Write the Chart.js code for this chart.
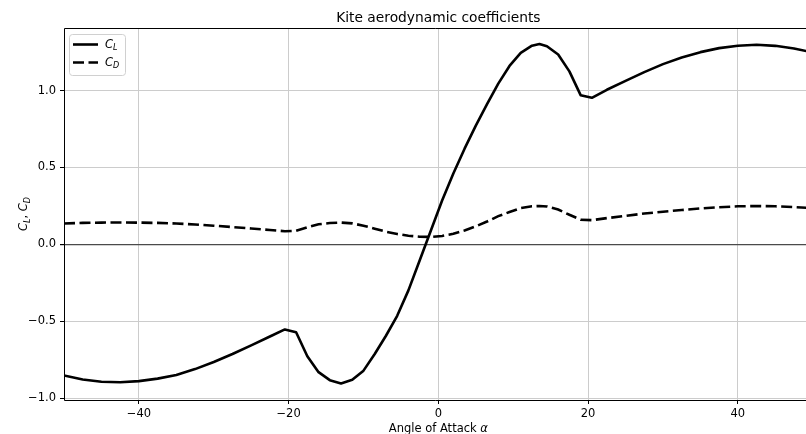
<!DOCTYPE html>
<html>
<head>
<meta charset="utf-8">
<title>Kite aerodynamic coefficients</title>
<script src="https://cdn.jsdelivr.net/npm/chart.js@4/dist/chart.umd.min.js"></script>
<style>
  html, body { margin: 0; padding: 0; background: #fff; overflow: hidden; }
  canvas { display: block; }
</style>
</head>
<body>
<canvas id="coeffs" width="806" height="434"></canvas>
<script>
// angle of attack (deg) and the two coefficient polars
const alpha = [-50, -47.5, -45, -42.5, -40, -37.5, -35, -32.5, -30, -27.5, -25, -22.5,
	-20.5, -19, -17.5, -16, -14.5, -13, -11.5, -10, -8.5, -7, -5.5, -4, -2.5, -1,
	0.5, 2, 3.5, 5, 6.5, 8, 9.5, 11, 12.5, 13.5, 14.5, 16, 17.5, 19, 20.5,
	22.5, 25, 27.5, 30, 32.5, 35, 37.5, 40, 42.5, 45, 47.5, 50];

const cl = [-0.853, -0.880, -0.894, -0.898, -0.890, -0.874, -0.850, -0.812, -0.766, -0.714, -0.658, -0.600,
	-0.554, -0.572, -0.728, -0.832, -0.884, -0.905, -0.882, -0.822, -0.714, -0.595, -0.465, -0.300, -0.105, 0.090,
	0.285, 0.460, 0.622, 0.772, 0.912, 1.045, 1.160, 1.245, 1.292, 1.303, 1.288, 1.235, 1.125, 0.970, 0.953,
	1.005, 1.063, 1.120, 1.172, 1.215, 1.250, 1.276, 1.292, 1.298, 1.291, 1.274, 1.248];

const cd = [0.135, 0.139, 0.141, 0.142, 0.141, 0.139, 0.135, 0.129, 0.121, 0.112, 0.103, 0.093,
	0.085, 0.088, 0.110, 0.130, 0.138, 0.141, 0.136, 0.121, 0.101, 0.082, 0.067, 0.056, 0.049, 0.048,
	0.054, 0.068, 0.090, 0.117, 0.148, 0.183, 0.210, 0.235, 0.247, 0.249, 0.246, 0.226, 0.192, 0.160, 0.157,
	0.170, 0.185, 0.200, 0.212, 0.223, 0.233, 0.241, 0.247, 0.249, 0.247, 0.242, 0.235];

const xTicks = [-40, -20, 0, 20, 40];
const yTicks = [-1.0, -0.5, 0.0, 0.5, 1.0];

const FONT = '"DejaVu Sans", sans-serif';
const MINUS = '\u2212';

function points(ys) {
	return ys.map(function(v, i) { return { x: alpha[i], y: v }; });
}

// italic symbol with a subscript, e.g. C_L ; returns drawn width
function drawSym(ctx, x, y, base, sub, size) {
	ctx.font = 'italic ' + size + 'px ' + FONT;
	ctx.fillText(base, x, y);
	var w = ctx.measureText(base).width;
	ctx.font = 'italic ' + (size * 0.7) + 'px ' + FONT;
	ctx.fillText(sub, x + w, y + size * 0.22);
	return w + ctx.measureText(sub).width;
}

function symWidth(ctx, base, sub, size) {
	ctx.font = 'italic ' + size + 'px ' + FONT;
	var w = ctx.measureText(base).width;
	ctx.font = 'italic ' + (size * 0.7) + 'px ' + FONT;
	return w + ctx.measureText(sub).width;
}

// frame, titles and legend in the matplotlib look
var decorations = {
	id: 'decorations',
	afterDraw: function(chart) {
		var ctx = chart.ctx;
		var area = chart.chartArea;
		var xs = chart.scales.x;
		var cx = xs.getPixelForValue(0);

		ctx.save();
		ctx.strokeStyle = '#000';
		ctx.lineWidth = 1;
		ctx.beginPath();
		ctx.moveTo(Math.round(area.left) + 0.5, Math.round(area.bottom) + 0.5);
		ctx.lineTo(Math.round(area.left) + 0.5, Math.round(area.top) + 0.5);
		ctx.lineTo(area.right + 2, Math.round(area.top) + 0.5);
		ctx.moveTo(Math.round(area.left) + 0.5, Math.round(area.bottom) + 0.5);
		ctx.lineTo(area.right + 2, Math.round(area.bottom) + 0.5);
		ctx.stroke();

		ctx.fillStyle = '#000';
		ctx.textBaseline = 'alphabetic';
		ctx.textAlign = 'center';
		ctx.font = '13.8px ' + FONT;
		ctx.fillText('Kite aerodynamic coefficients', cx, 22);

		// x axis title: "Angle of Attack α"
		ctx.textAlign = 'left';
		ctx.font = '11.5px ' + FONT;
		var plain = 'Angle of Attack ';
		var pw = ctx.measureText(plain).width;
		ctx.font = 'italic 11.5px ' + FONT;
		var aw = ctx.measureText('\u03b1').width;
		var x0 = cx - (pw + aw) / 2;
		ctx.font = '11.5px ' + FONT;
		ctx.fillText(plain, x0, 432);
		ctx.font = 'italic 11.5px ' + FONT;
		ctx.fillText('\u03b1', x0 + pw, 432);

		// y axis title: C_L, C_D rotated
		ctx.save();
		ctx.translate(27, (area.top + area.bottom) / 2);
		ctx.rotate(-Math.PI / 2);
		var s = 11.5;
		ctx.font = s + 'px ' + FONT;
		var cw = ctx.measureText(', ').width;
		var total = symWidth(ctx, 'C', 'L', s) + cw + symWidth(ctx, 'C', 'D', s);
		var tx = -total / 2;
		tx += drawSym(ctx, tx, 0, 'C', 'L', s);
		ctx.font = s + 'px ' + FONT;
		ctx.fillText(', ', tx, 0);
		tx += cw;
		drawSym(ctx, tx, 0, 'C', 'D', s);
		ctx.restore();

		// legend
		var bx = 69.5, by = 34.5, bw = 56, bh = 41;
		ctx.beginPath();
		ctx.roundRect(bx, by, bw, bh, 3);
		ctx.fillStyle = 'rgba(255,255,255,0.8)';
		ctx.fill();
		ctx.strokeStyle = '#d0d0d0';
		ctx.lineWidth = 1;
		ctx.stroke();

		chart.data.datasets.forEach(function(ds, i) {
			var ly = 44.5 + i * 18;
			ctx.beginPath();
			ctx.strokeStyle = ds.borderColor;
			ctx.lineWidth = ds.borderWidth;
			ctx.setLineDash(ds.borderDash || []);
			ctx.lineCap = 'butt';
			ctx.moveTo(73, ly);
			ctx.lineTo(98, ly);
			ctx.stroke();
			ctx.setLineDash([]);
			var parts = ds.label.split('_');
			ctx.fillStyle = '#000';
			drawSym(ctx, 105, ly + 3, parts[0], parts[1], 11.5);
		});
		ctx.restore();
	}
};

window.onload = function() {
	var config = {
		type: 'line',
		data: {
			datasets: [{
				label: 'C_L',
				data: points(cl),
				borderColor: '#000',
				borderWidth: 2.6,
				borderJoinStyle: 'round',
				pointRadius: 0,
				tension: 0,
				fill: false
			}, {
				label: 'C_D',
				data: points(cd),
				borderColor: '#000',
				borderWidth: 2.6,
				borderDash: [11, 4.5],
				borderCapStyle: 'butt',
				pointRadius: 0,
				tension: 0,
				fill: false
			}]
		},
		options: {
			responsive: false,
			animation: false,
			devicePixelRatio: 1,
			layout: { padding: { top: 28, left: 0, right: 0, bottom: 0 } },
			plugins: {
				legend: { display: false },
				title: { display: false },
				tooltip: { enabled: false }
			},
			scales: {
				x: {
					type: 'linear',
					min: -50,
					max: 49.1,
					afterFit: function(s) { s.height = 34; },
					afterBuildTicks: function(s) {
						s.ticks = xTicks.map(function(v) { return { value: v }; });
					},
					ticks: {
						color: '#000',
						padding: 3,
						maxRotation: 0,
						font: { family: FONT, size: 11.5 },
						callback: function(v) { return String(v).replace('-', MINUS); }
					},
					grid: {
						color: '#cccccc',
						lineWidth: 1,
						tickLength: 4,
						tickColor: '#000'
					},
					border: { display: false }
				},
				y: {
					type: 'linear',
					min: -1.013,
					max: 1.407,
					afterFit: function(s) { s.width = 64; },
					afterBuildTicks: function(s) {
						s.ticks = yTicks.map(function(v) { return { value: v }; });
					},
					ticks: {
						color: '#000',
						padding: 4,
						font: { family: FONT, size: 11.5 },
						callback: function(v) { return v.toFixed(1).replace('-', MINUS); }
					},
					grid: {
						color: function(c) { return c.tick && c.tick.value === 0 ? '#4a4a4a' : '#cccccc'; },
						lineWidth: function(c) { return c.tick && c.tick.value === 0 ? 1.2 : 1; },
						tickLength: 4,
						tickColor: '#000'
					},
					border: { display: false }
				}
			}
		},
		plugins: [decorations]
	};
	new Chart(document.getElementById('coeffs'), config);
};
</script>
</body>
</html>
